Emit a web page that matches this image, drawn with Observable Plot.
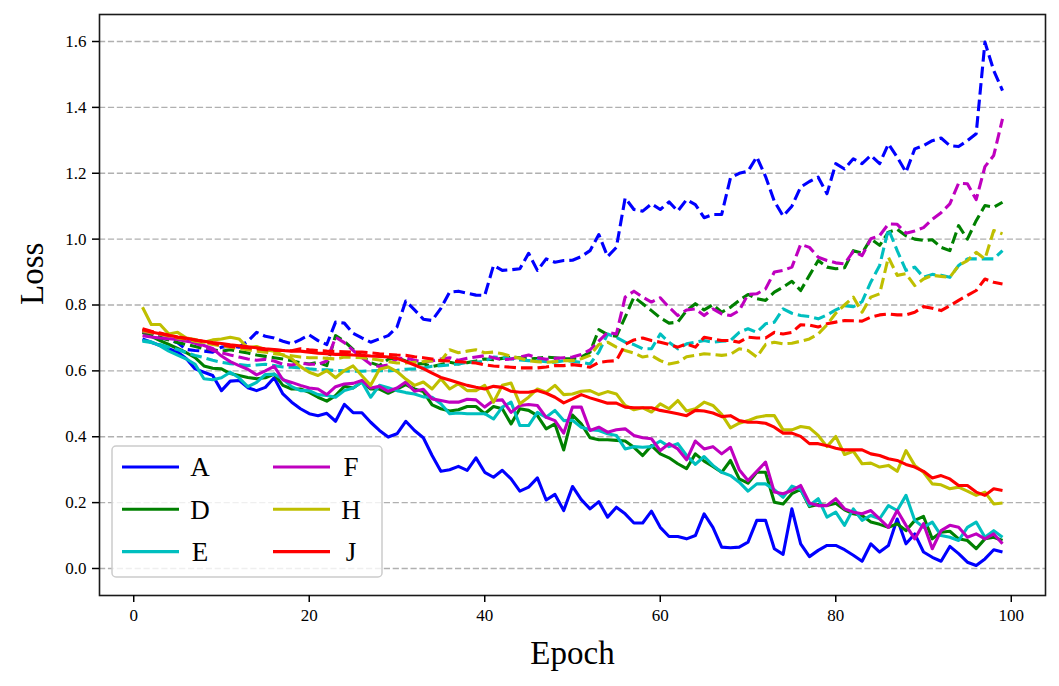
<!DOCTYPE html>
<html>
<head>
<meta charset="utf-8">
<script src="https://cdn.jsdelivr.net/npm/d3@7"></script>
<script src="https://cdn.jsdelivr.net/npm/@observablehq/plot@0.6"></script>
<style>
  html, body { margin: 0; padding: 0; background: white; }
  #chart { position: relative; width: 1059px; height: 686px; }
  #chart svg text { font-family: "Liberation Serif", "DejaVu Serif", serif; }
</style>
</head>
<body>
<div id="chart"></div>
<script>
// ---- data ----
const models = ["A", "D", "E", "F", "H", "J"];
const colors = ["#0000ff", "#008000", "#00bfbf", "#bf00bf", "#bfbf00", "#ff0000"];
const xTicks = [0, 20, 40, 60, 80, 100];
const yTicks = [0.0, 0.2, 0.4, 0.6, 0.8, 1.0, 1.2, 1.4, 1.6];
const epochs = d3.range(1, 100);

const A_train = [0.697,0.687,0.677,0.667,0.657,0.637,0.606,0.596,0.586,0.540,
0.569,0.571,0.549,0.540,0.550,0.579,0.530,0.505,0.485,0.470,
0.464,0.471,0.447,0.498,0.473,0.473,0.444,0.419,0.399,0.409,
0.447,0.419,0.397,0.343,0.295,0.300,0.310,0.298,0.336,0.292,
0.277,0.298,0.272,0.235,0.247,0.275,0.208,0.225,0.176,0.249,
0.209,0.181,0.203,0.156,0.186,0.166,0.138,0.138,0.174,0.125,
0.097,0.097,0.090,0.100,0.166,0.125,0.065,0.063,0.065,0.080,
0.146,0.146,0.060,0.043,0.181,0.075,0.036,0.055,0.070,0.070,
0.057,0.040,0.022,0.075,0.050,0.070,0.150,0.075,0.105,0.050,
0.034,0.022,0.067,0.045,0.019,0.009,0.029,0.057,0.050];
const A_val = [0.723,0.710,0.700,0.695,0.685,0.665,0.662,0.660,0.657,0.672,
0.675,0.672,0.690,0.717,0.705,0.700,0.690,0.682,0.695,0.709,
0.692,0.680,0.748,0.745,0.714,0.700,0.687,0.697,0.707,0.733,
0.812,0.785,0.757,0.753,0.790,0.839,0.842,0.836,0.830,0.829,
0.920,0.905,0.907,0.910,0.957,0.905,0.940,0.930,0.935,0.936,
0.947,0.965,1.014,0.947,0.975,1.125,1.090,1.085,1.107,1.090,
1.113,1.085,1.120,1.105,1.065,1.075,1.075,1.186,1.200,1.206,
1.250,1.190,1.115,1.070,1.100,1.158,1.175,1.188,1.138,1.229,
1.213,1.244,1.229,1.254,1.229,1.289,1.249,1.203,1.274,1.284,
1.299,1.307,1.284,1.281,1.299,1.320,1.598,1.512,1.451];

const D_train = [0.717,0.705,0.692,0.680,0.668,0.655,0.640,0.615,0.608,0.606,
0.592,0.586,0.580,0.576,0.579,0.590,0.556,0.545,0.545,0.535,
0.520,0.508,0.525,0.553,0.548,0.566,0.545,0.545,0.532,0.545,
0.558,0.545,0.537,0.497,0.485,0.478,0.482,0.492,0.492,0.470,
0.492,0.485,0.439,0.485,0.480,0.464,0.424,0.439,0.360,0.466,
0.439,0.397,0.391,0.391,0.389,0.387,0.368,0.343,0.373,0.348,
0.336,0.318,0.303,0.348,0.326,0.310,0.292,0.328,0.272,0.259,
0.292,0.292,0.201,0.196,0.227,0.240,0.188,0.194,0.191,0.198,
0.178,0.166,0.161,0.141,0.134,0.125,0.136,0.115,0.146,0.158,
0.090,0.110,0.113,0.090,0.085,0.060,0.090,0.095,0.085];
const D_val = [0.722,0.712,0.702,0.694,0.686,0.680,0.674,0.668,0.664,0.660,
0.664,0.659,0.654,0.648,0.644,0.640,0.636,0.631,0.625,0.621,
0.626,0.616,0.707,0.690,0.665,0.645,0.625,0.616,0.635,0.640,
0.630,0.621,0.622,0.613,0.619,0.626,0.621,0.625,0.630,0.636,
0.634,0.638,0.642,0.640,0.636,0.638,0.642,0.640,0.637,0.637,
0.642,0.657,0.725,0.710,0.705,0.763,0.824,0.804,0.783,0.761,
0.745,0.748,0.783,0.804,0.785,0.801,0.778,0.793,0.814,0.832,
0.819,0.814,0.839,0.854,0.872,0.844,0.890,0.935,0.915,0.910,
0.913,0.965,0.957,1.001,0.981,1.021,1.030,1.010,1.000,0.996,
0.998,0.975,0.965,1.041,1.000,1.056,1.102,1.097,1.112];

const E_train = [0.692,0.688,0.676,0.660,0.648,0.636,0.620,0.576,0.573,0.579,
0.596,0.579,0.552,0.565,0.589,0.590,0.575,0.552,0.540,0.540,
0.528,0.525,0.520,0.540,0.548,0.566,0.520,0.556,0.549,0.540,
0.534,0.530,0.521,0.520,0.500,0.470,0.472,0.470,0.470,0.470,
0.454,0.490,0.505,0.434,0.434,0.474,0.459,0.480,0.449,0.450,
0.429,0.421,0.419,0.409,0.404,0.363,0.370,0.368,0.370,0.387,
0.370,0.379,0.343,0.316,0.340,0.313,0.292,0.282,0.262,0.235,
0.257,0.257,0.239,0.216,0.250,0.240,0.191,0.212,0.156,0.171,
0.131,0.181,0.146,0.161,0.151,0.191,0.176,0.222,0.146,0.125,
0.141,0.100,0.095,0.085,0.125,0.141,0.095,0.115,0.095];
const E_val = [0.690,0.686,0.680,0.672,0.665,0.655,0.647,0.640,0.632,0.626,
0.622,0.619,0.616,0.618,0.620,0.616,0.612,0.611,0.609,0.606,
0.604,0.603,0.601,0.600,0.599,0.599,0.600,0.601,0.600,0.602,
0.605,0.606,0.609,0.614,0.616,0.618,0.621,0.626,0.626,0.630,
0.642,0.640,0.637,0.633,0.631,0.631,0.628,0.626,0.631,0.629,
0.626,0.621,0.657,0.712,0.702,0.687,0.680,0.667,0.667,0.712,
0.687,0.667,0.682,0.687,0.692,0.687,0.690,0.692,0.717,0.728,
0.717,0.743,0.748,0.788,0.775,0.768,0.765,0.758,0.770,0.785,
0.798,0.795,0.810,0.870,0.920,1.031,0.965,0.905,0.915,0.884,
0.893,0.890,0.884,0.920,0.940,0.940,0.940,0.940,0.965];

const F_train = [0.707,0.703,0.700,0.698,0.695,0.690,0.686,0.677,0.668,0.645,
0.628,0.616,0.605,0.588,0.600,0.614,0.573,0.565,0.556,0.548,
0.545,0.528,0.552,0.560,0.562,0.571,0.548,0.553,0.538,0.548,
0.566,0.538,0.544,0.515,0.510,0.505,0.505,0.514,0.512,0.490,
0.510,0.512,0.474,0.495,0.498,0.495,0.459,0.449,0.411,0.490,
0.490,0.419,0.429,0.414,0.421,0.424,0.404,0.397,0.394,0.358,
0.379,0.363,0.330,0.387,0.363,0.370,0.348,0.368,0.300,0.267,
0.295,0.323,0.232,0.227,0.237,0.252,0.199,0.191,0.191,0.212,
0.181,0.171,0.166,0.176,0.151,0.125,0.176,0.131,0.090,0.136,
0.060,0.115,0.131,0.125,0.095,0.105,0.090,0.105,0.075];
const F_val = [0.720,0.716,0.711,0.706,0.700,0.692,0.684,0.674,0.662,0.655,
0.648,0.642,0.636,0.632,0.635,0.630,0.620,0.618,0.624,0.620,
0.620,0.630,0.702,0.686,0.662,0.640,0.620,0.613,0.618,0.636,
0.640,0.632,0.628,0.630,0.636,0.640,0.632,0.638,0.642,0.646,
0.640,0.634,0.636,0.642,0.648,0.640,0.635,0.638,0.640,0.642,
0.650,0.664,0.690,0.717,0.712,0.824,0.842,0.824,0.809,0.822,
0.793,0.768,0.785,0.788,0.768,0.788,0.773,0.768,0.783,0.832,
0.834,0.849,0.900,0.905,0.915,0.984,0.975,0.945,0.935,0.928,
0.925,0.963,0.950,1.001,1.011,1.046,1.045,1.018,1.025,1.035,
1.060,1.080,1.107,1.170,1.168,1.120,1.220,1.254,1.365];

const H_train = [0.793,0.741,0.741,0.712,0.717,0.700,0.695,0.687,0.694,0.697,
0.702,0.697,0.670,0.674,0.664,0.660,0.648,0.637,0.613,0.596,
0.586,0.601,0.579,0.601,0.615,0.585,0.556,0.605,0.612,0.598,
0.575,0.556,0.566,0.545,0.576,0.545,0.561,0.540,0.540,0.556,
0.505,0.556,0.563,0.500,0.520,0.545,0.535,0.556,0.528,0.530,
0.538,0.540,0.528,0.537,0.530,0.495,0.482,0.488,0.475,0.500,
0.485,0.510,0.478,0.485,0.505,0.495,0.468,0.427,0.441,0.449,
0.459,0.464,0.464,0.421,0.421,0.431,0.427,0.404,0.370,0.401,
0.346,0.356,0.318,0.320,0.308,0.313,0.295,0.358,0.313,0.292,
0.257,0.254,0.242,0.247,0.235,0.222,0.232,0.196,0.199];
const H_val = [0.722,0.716,0.712,0.706,0.700,0.697,0.690,0.686,0.680,0.676,
0.672,0.668,0.664,0.660,0.657,0.652,0.649,0.646,0.642,0.640,
0.640,0.638,0.636,0.642,0.641,0.640,0.637,0.633,0.628,0.624,
0.624,0.626,0.628,0.631,0.631,0.664,0.655,0.660,0.664,0.655,
0.657,0.652,0.644,0.638,0.631,0.628,0.626,0.628,0.631,0.631,
0.637,0.647,0.680,0.687,0.672,0.662,0.654,0.642,0.647,0.631,
0.621,0.626,0.643,0.647,0.652,0.650,0.647,0.650,0.667,0.662,
0.642,0.680,0.687,0.682,0.684,0.690,0.697,0.712,0.740,0.775,
0.800,0.824,0.778,0.824,0.834,0.945,0.890,0.895,0.859,0.879,
0.890,0.887,0.884,0.920,0.935,0.960,0.940,1.026,1.016];

const J_train = [0.725,0.718,0.713,0.708,0.703,0.699,0.694,0.690,0.686,0.683,
0.679,0.676,0.673,0.670,0.667,0.665,0.662,0.660,0.660,0.657,
0.654,0.652,0.650,0.650,0.648,0.647,0.645,0.644,0.642,0.638,
0.628,0.618,0.607,0.593,0.580,0.572,0.564,0.556,0.550,0.545,
0.553,0.550,0.538,0.535,0.535,0.540,0.532,0.520,0.503,0.515,
0.528,0.518,0.510,0.502,0.502,0.490,0.488,0.488,0.488,0.480,
0.475,0.470,0.464,0.480,0.478,0.472,0.461,0.464,0.449,0.444,
0.444,0.441,0.429,0.411,0.411,0.401,0.379,0.379,0.373,0.365,
0.360,0.360,0.360,0.348,0.343,0.333,0.328,0.316,0.308,0.295,
0.275,0.282,0.272,0.252,0.252,0.232,0.222,0.242,0.237];
const J_val = [0.728,0.720,0.715,0.708,0.702,0.698,0.694,0.689,0.684,0.679,
0.674,0.672,0.670,0.667,0.664,0.663,0.662,0.661,0.667,0.664,
0.662,0.660,0.659,0.658,0.657,0.657,0.655,0.652,0.650,0.648,
0.647,0.643,0.640,0.636,0.631,0.630,0.628,0.626,0.624,0.618,
0.615,0.613,0.611,0.609,0.609,0.609,0.612,0.616,0.616,0.619,
0.616,0.611,0.626,0.629,0.631,0.680,0.694,0.700,0.692,0.687,
0.680,0.672,0.682,0.672,0.702,0.697,0.692,0.692,0.687,0.702,
0.700,0.700,0.717,0.712,0.717,0.740,0.739,0.733,0.743,0.748,
0.753,0.752,0.751,0.763,0.770,0.773,0.770,0.770,0.778,0.795,
0.790,0.783,0.798,0.814,0.829,0.844,0.879,0.869,0.864];

// ---- build table ----
const trainSets = [A_train, D_train, E_train, F_train, H_train, J_train];
const valSets = [A_val, D_val, E_val, F_val, H_val, J_val];
const rows = [];
models.forEach((m, i) => {
  epochs.forEach((e, k) => rows.push({model: m, kind: "train", epoch: e, loss: trainSets[i][k]}));
  epochs.forEach((e, k) => rows.push({model: m, kind: "val", epoch: e, loss: valSets[i][k]}));
});

const LW = 3.1;
const lineMarks = [];
models.forEach((m, i) => {
  lineMarks.push(Plot.line(rows.filter(d => d.model === m && d.kind === "train"),
    {x: "epoch", y: "loss", stroke: colors[i], strokeWidth: LW, strokeLinejoin: "round", strokeLinecap: "butt"}));
  lineMarks.push(Plot.line(rows.filter(d => d.model === m && d.kind === "val"),
    {x: "epoch", y: "loss", stroke: colors[i], strokeWidth: LW, strokeDasharray: "11.6,5", strokeLinejoin: "round", strokeLinecap: "butt"}));
});

const W = 1059, H = 686, mL = 99, mR = 14, mT = 14, mB = 91;
const serif = "Liberation Serif, DejaVu Serif, serif";

const chart = Plot.plot({
  width: W, height: H,
  marginLeft: mL, marginRight: mR, marginTop: mT, marginBottom: mB,
  style: {fontFamily: serif, fontSize: "17px", background: "white", color: "black"},
  x: {domain: [-3.9, 103.9], label: null},
  y: {domain: [-0.082, 1.682], label: null},
  marks: [
    Plot.gridY(yTicks, {stroke: "#b0b0b0", strokeOpacity: 1, strokeWidth: 1.3, strokeDasharray: "6.2,2.7"}),
    ...lineMarks,
    Plot.frame({stroke: "#1a1a1a", strokeWidth: 1.6}),
    Plot.axisX(xTicks, {tickSize: 7, tickPadding: 6, strokeWidth: 1.5, fontSize: 17, fontFamily: serif, label: null}),
    Plot.axisY(yTicks, {tickSize: 7, tickPadding: 6, strokeWidth: 1.5, fontSize: 17, fontFamily: serif, tickFormat: d3.format(".1f"), label: null}),
    Plot.text(["Epoch"], {frameAnchor: "bottom", dy: 68, fontSize: 33, fontFamily: serif}),
    Plot.text(["Loss"], {frameAnchor: "left", dx: -67, rotate: -90, fontSize: 33, fontFamily: serif})
  ]
});
document.getElementById("chart").appendChild(chart);

// ---- legend (matplotlib-style box, lower left of the axes) ----
const svg = d3.select(chart);
const lgX = mL + 13, lgW = 270, lgH = 131;
const lgY = H - mB - 18 - lgH;
const g = svg.append("g").attr("class", "legend");
g.append("rect").attr("x", lgX).attr("y", lgY).attr("width", lgW).attr("height", lgH)
  .attr("rx", 4).attr("fill", "white").attr("fill-opacity", 0.8)
  .attr("stroke", "#cccccc").attr("stroke-width", 1.5);
models.forEach((m, i) => {
  const col = Math.floor(i / 3), row = i % 3;
  const x0 = lgX + 10 + col * 151;
  const cy = lgY + 21 + row * 42.3;
  g.append("line").attr("x1", x0).attr("x2", x0 + 57).attr("y1", cy).attr("y2", cy)
    .attr("stroke", colors[i]).attr("stroke-width", LW);
  g.append("text").attr("x", x0 + 78).attr("y", cy).attr("dy", "0.35em")
    .attr("font-family", serif).attr("font-size", 27).attr("fill", "black").text(m);
});
</script>
</body>
</html>
